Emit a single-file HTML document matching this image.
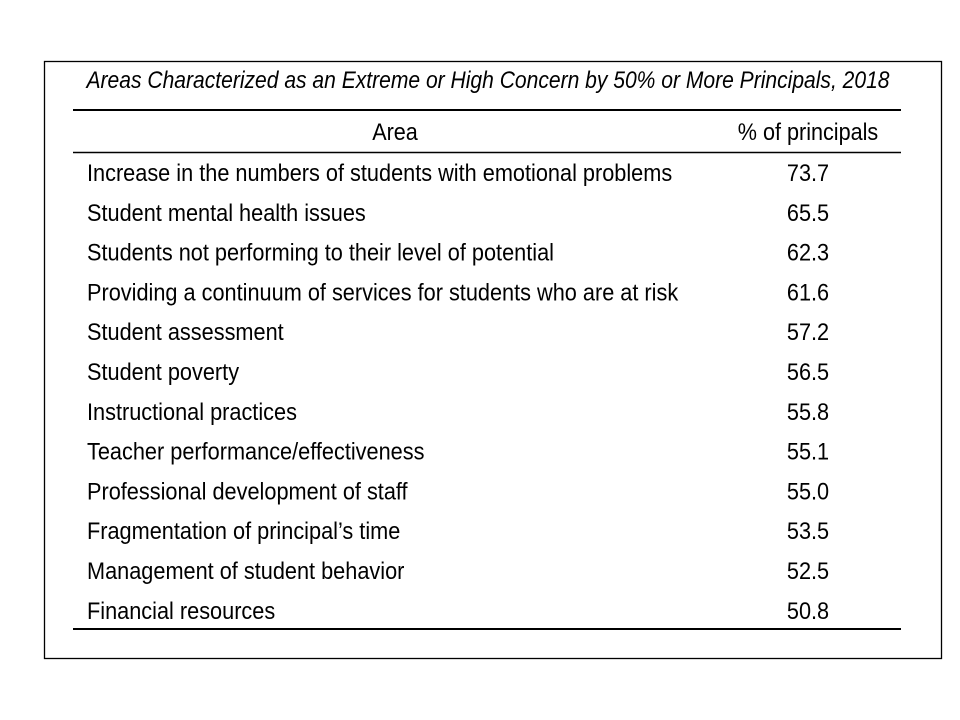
<!DOCTYPE html>
<html><head><meta charset="utf-8"><style>
html,body{margin:0;padding:0;background:#fff;}
svg{display:block;}
text{font-family:"Liberation Sans",sans-serif;fill:#000;}
</style></head><body>
<svg width="960" height="720">
<rect x="44.5" y="61.5" width="897" height="597" fill="#fff" stroke="#000" stroke-width="1.3"/>
<text x="488" y="88" font-size="24" font-style="italic" text-anchor="middle" textLength="803" lengthAdjust="spacingAndGlyphs">Areas Characterized as an Extreme or High Concern by 50% or More Principals, 2018</text>
<line x1="73" y1="110" x2="901" y2="110" stroke="#000" stroke-width="2"/>
<text transform="translate(395,140) scale(0.9,1)" font-size="24" text-anchor="middle">Area</text>
<text transform="translate(808,140) scale(0.9,1)" font-size="24" text-anchor="middle">% of principals</text>
<line x1="73" y1="152.5" x2="901" y2="152.5" stroke="#000" stroke-width="1.5"/>
<g id="rows"></g>
<line x1="73" y1="629" x2="901" y2="629" stroke="#000" stroke-width="2"/>
</svg>
<script>
const areas=["Increase in the numbers of students with emotional problems","Student mental health issues","Students not performing to their level of potential","Providing a continuum of services for students who are at risk","Student assessment","Student poverty","Instructional practices","Teacher performance/effectiveness","Professional development of staff","Fragmentation of principal\u2019s time","Management of student behavior","Financial resources"];
const values=["73.7","65.5","62.3","61.6","57.2","56.5","55.8","55.1","55.0","53.5","52.5","50.8"];
const g=document.getElementById('rows');
const NS='http://www.w3.org/2000/svg';
areas.forEach((a,i)=>{
  const y=181+i*39.8;
  const t=document.createElementNS(NS,'text');
  t.setAttribute('transform','translate(87,'+y+') scale(0.905,1)');
  t.setAttribute('font-size','24');
  t.textContent=a;
  
  
  g.appendChild(t);
  const v=document.createElementNS(NS,'text');
  v.setAttribute('transform','translate(808,'+y+') scale(0.905,1)');
  v.setAttribute('font-size','24');v.setAttribute('text-anchor','middle');
  v.textContent=values[i];
  
  
  g.appendChild(v);
});
</script>
</body></html>
